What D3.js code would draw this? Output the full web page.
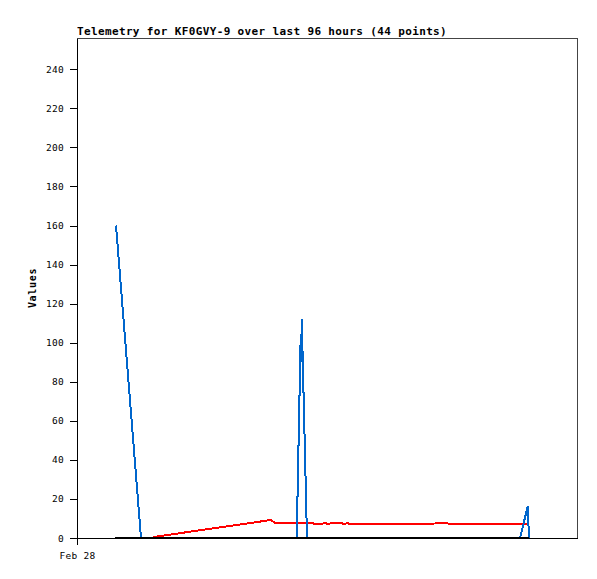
<!DOCTYPE html>
<html><head><meta charset="utf-8">
<script src="https://cdn.jsdelivr.net/npm/d3@7"></script>
<style>body{margin:0;background:#fff}svg{display:block}</style>
</head><body>
<script>
const title = "Telemetry for KF0GVY-9 over last 96 hours (44 points)";
const yLabel = "Values";
const startTime = "2025-02-28T00:00:00";
const hoursSpan = 96;
const xTickLabels = ["Feb 28"];
const yTicks = [0,20,40,60,80,100,120,140,160,180,200,220,240];
const yMax = 256;

// hours after start, values
const blueHours  = [7.49, 12.29, 42.18, 42.93, 43.01, 43.16, 43.26, 44.16, 85.06, 86.55, 86.78];
const blueValues = [160,  0,     0,     101,   90,    112,   100,   0,     0,     16.3,  0];

const redHours  = [14.65, 36.67, 37.15, 38.02, 44.93, 45.89, 46.85, 47.62, 48.19, 48.96, 50.69, 51.26, 51.94, 52.42, 67.97, 68.35, 69.89, 70.27, 71.04, 71.42, 86.59];
const redValues = [0.5,   9.0,   9.3,   7.8,   7.8,   7.0,   7.0,   7.8,   7.0,   7.8,   7.8,   7.0,   7.8,   7.0,   7.0,   7.4,   7.5,   7.9,   7.9,   7.0,   7.0];

const blackHours  = [7.30, 86.78];
const blackValues = [0, 0];

(function(){
const W = 597, H = 579;
const mL = 77, mR = 577, mT = 38, mB = 538;
const t0 = new Date(startTime);
const toDate = h => new Date(t0.getTime() + h * 3600e3);

const x = d3.scaleTime().domain([t0, toDate(hoursSpan)]).range([mL, mR]);
const y = d3.scaleLinear().domain([0, yMax]).range([mB, mT]);

const svg = d3.select("body").append("svg").attr("width", W).attr("height", H);

svg.append("rect").attr("x", mL).attr("y", mT).attr("width", mR-mL).attr("height", mB-mT)
  .attr("fill", "none").attr("stroke", "#444").attr("shape-rendering", "crispEdges");

const mono = "'DejaVu Sans Mono', 'Liberation Mono', monospace";

svg.append("text").attr("x", mL).attr("y", 35).text(title)
  .attr("font-family", mono).attr("font-weight", "bold").attr("font-size", 11)
  .attr("letter-spacing", 0.36).attr("fill", "#000");

const yAxis = d3.axisLeft(y).tickValues(yTicks).tickSizeInner(7).tickSizeOuter(0).tickPadding(6).tickFormat(d3.format("d"));
const ga = svg.append("g").attr("transform", `translate(${mL},0)`).call(yAxis);
ga.select(".domain").attr("stroke", "#000").attr("shape-rendering", "crispEdges");
ga.selectAll(".tick line").attr("stroke", "#000").attr("shape-rendering", "crispEdges");
ga.selectAll("text").attr("font-family", mono).attr("font-size", 9.5).attr("letter-spacing", 0.28).attr("fill", "#000");

const xAxis = d3.axisBottom(x).tickValues([t0]).tickSizeInner(7).tickSizeOuter(0).tickPadding(7).tickFormat((d,i) => xTickLabels[i]);
const gx = svg.append("g").attr("transform", `translate(0,${mB})`).call(xAxis);
gx.select(".domain").attr("stroke", "#000").attr("shape-rendering", "crispEdges");
gx.selectAll(".tick line").attr("stroke", "#000").attr("shape-rendering", "crispEdges");
gx.selectAll("text").attr("font-family", mono).attr("font-size", 9.5).attr("letter-spacing", 0.28).attr("fill", "#000");

svg.append("text").attr("transform", `translate(36,${(mT+mB)/2}) rotate(-90)`)
  .attr("text-anchor", "middle").text(yLabel)
  .attr("font-family", mono).attr("font-weight", "bold").attr("font-size", 10)
  .attr("letter-spacing", 0.68).attr("fill", "#000");

const line = d3.line().x(d => x(toDate(d[0]))).y(d => y(d[1]));
function draw(hours, values, color) {
  svg.append("path").datum(hours.map((h,i) => [h, values[i]]))
    .attr("d", line).attr("fill", "none").attr("stroke", color).attr("stroke-width", 2)
    .attr("shape-rendering", "crispEdges");
}
draw(redHours, redValues, "#ff0000");
draw(blueHours, blueValues, "#0066cc");
draw(blackHours, blackValues, "#000000");
})();
</script>
</body></html>
